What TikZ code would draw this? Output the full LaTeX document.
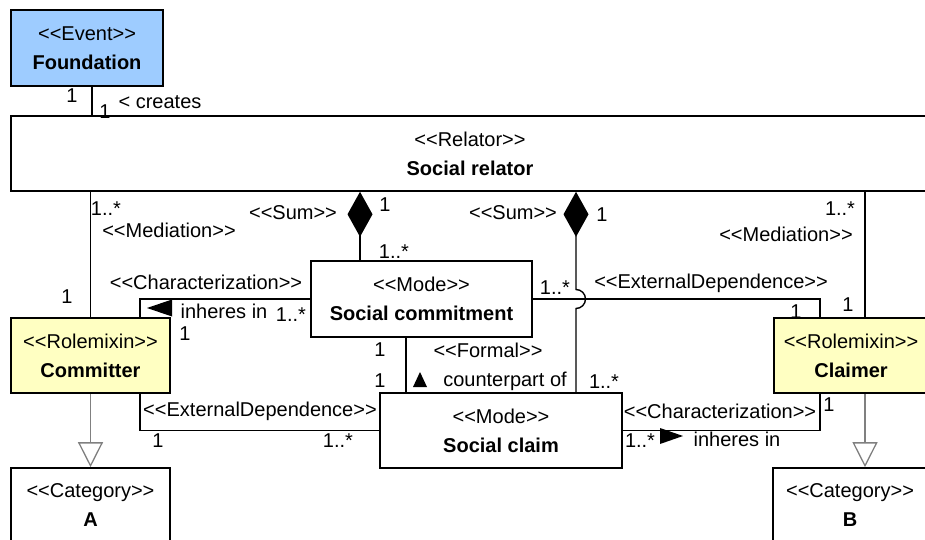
\documentclass[tikz,border=0pt]{standalone}
\usepackage{fontspec}
\setmainfont{Liberation Sans}
\usetikzlibrary{arrows.meta}

\definecolor{eventblue}{RGB}{158,204,255}
\definecolor{roleyellow}{RGB}{255,255,194}
\newcommand{\stereo}[1]{<{}<#1>{}>}

\tikzset{
  umlbox/.style={draw, line width=1.6pt, fill=white, inner sep=0pt, align=center,
    font=\fontsize{20}{29}\selectfont},
  conn/.style={line width=1.4pt, black},
  sum/.style={conn, -{Diamond[length=45pt,width=25pt]}},
  gen/.style={line width=1.3pt, gray, -{Triangle[length=25pt,width=25pt,fill=white]}},
  lbl/.style={inner sep=0pt, font=\fontsize{20}{24}\selectfont}
}

\begin{document}
\begin{tikzpicture}[x=1pt, y=-1pt]
  \useasboundingbox (0,0) rectangle (925,540);
  \clip (0,0) rectangle (925,540);
  %
  \node[umlbox, fill=eventblue, minimum width=152pt, minimum height=76pt] (found) at (87,48) {\stereo{Event}\\\textbf{Foundation}};
  \node[umlbox, minimum width=918pt, minimum height=75pt] (relator) at (470,153.5) {\stereo{Relator}\\\textbf{Social relator}};
  \node[umlbox, minimum width=221pt, minimum height=76pt] (commitment) at (421.5,299) {\stereo{Mode}\\\textbf{Social commitment}};
  \node[umlbox, minimum width=242pt, minimum height=75pt] (claim) at (501,430.5) {\stereo{Mode}\\\textbf{Social claim}};
  \node[umlbox, fill=roleyellow, minimum width=159pt, minimum height=75pt] (committer) at (90.5,355.5) {\stereo{Rolemixin}\\\textbf{Committer}};
  \node[umlbox, fill=roleyellow, minimum width=154pt, minimum height=75pt] (claimer) at (851,355.5) {\stereo{Rolemixin}\\\textbf{Claimer}};
  \node[umlbox, minimum width=159pt, minimum height=75pt] (catA) at (90.5,505.5) {\stereo{Category}\\\textbf{A}};
  \node[umlbox, minimum width=154pt, minimum height=75pt] (catB) at (850,505.5) {\stereo{Category}\\\textbf{B}};
  %
  \coordinate (hop) at ([xshift=75pt]claim.north |- commitment.east);
  %
  \draw[conn] ([xshift=5pt]found.south) -- ([xshift=5pt]found.south |- relator.north);
  \draw[conn] (committer.north |- relator.south) -- (committer.north);
  \draw[conn] ([xshift=14pt]claimer.north |- relator.south) -- ([xshift=14pt]claimer.north);
  \draw[sum] ([xshift=-61.5pt]commitment.north) -- ([xshift=-61.5pt]commitment.north |- relator.south);
  \draw[sum] ([xshift=75pt]claim.north) -- ([yshift=-9.5pt]hop) arc[start angle=90, end angle=-90, radius=9.5] -- ([xshift=75pt]claim.north |- relator.south);
  \draw[conn] (commitment.west) -| ([xshift=49.5pt]committer.north);
  \draw[conn] (commitment.east) -| ([xshift=-31pt]claimer.north);
  \draw[conn] ([xshift=-15.5pt]commitment.south) -- ([xshift=-15.5pt]commitment.south |- claim.north);
  \draw[conn] ([xshift=49.5pt]committer.south) |- (claim.west);
  \draw[conn] (claim.east) -| ([xshift=-31pt]claimer.south);
  \draw[gen] (committer.south) -- (catA.north);
  \draw[gen] ([xshift=14pt]claimer.south) -- ([xshift=14pt]claimer.south |- catB.north);
  %
  \fill (147,308) -- (172,299.5) -- (172,316.5) -- cycle;
  \fill (420,372) -- (427,387) -- (413,387) -- cycle;
  \fill (683,436) -- (660,428) -- (660,444) -- cycle;
  %
  \node[lbl] (mc1) at (72,96) {1};
  \node[lbl] (mc2) at (105,112) {1};
  \node[lbl] (creates) at (160,102) {< creates};
  \node[lbl] (mml1) at (106,209) {1..*};
  \node[lbl] (medl) at (169,230) {\stereo{Mediation}};
  \node[lbl] (mml2) at (67,297) {1};
  \node[lbl] (suml) at (293,213) {\stereo{Sum}};
  \node[lbl] (msl1) at (385,205) {1};
  \node[lbl] (msl2) at (394,252) {1..*};
  \node[lbl] (sumr) at (513,213) {\stereo{Sum}};
  \node[lbl] (msr1) at (602,215) {1};
  \node[lbl] (charl) at (206,282) {\stereo{Characterization}};
  \node[lbl] (inhl) at (224,311) {inheres in};
  \node[lbl] (mcl1) at (291,315) {1..*};
  \node[lbl] (mcl2) at (185,334) {1};
  \node[lbl] (medt1) at (555,288) {1..*};
  \node[lbl] (extt) at (711,283) {\stereo{ExternalDependence}};
  \node[lbl] (medt2) at (796,312) {1};
  \node[lbl] (mmr1) at (840,209) {1..*};
  \node[lbl] (medr) at (786,234) {\stereo{Mediation}};
  \node[lbl] (mmr2) at (848,305) {1};
  \node[lbl] (mf1) at (380,350) {1};
  \node[lbl] (mf2) at (380,381) {1};
  \node[lbl] (formal) at (488,350) {\stereo{Formal}};
  \node[lbl] (counter) at (505,381) {counterpart of};
  \node[lbl] (msr2) at (604,382) {1..*};
  \node[lbl] (extb) at (260,411) {\stereo{ExternalDependence}};
  \node[lbl] (meb1) at (158,441) {1};
  \node[lbl] (meb2) at (338,441) {1..*};
  \node[lbl] (charr) at (720,411) {\stereo{Characterization}};
  \node[lbl] (mcr1) at (829,405) {1};
  \node[lbl] (mcr2) at (640,441) {1..*};
  \node[lbl] (inhr) at (737,439) {inheres in};
\end{tikzpicture}
\end{document}
